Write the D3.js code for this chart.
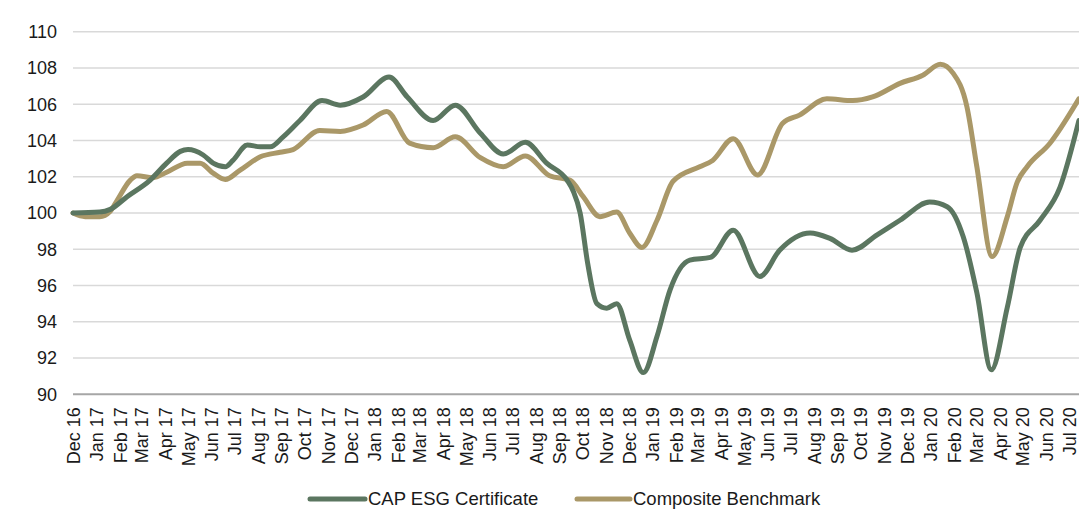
<!DOCTYPE html>
<html>
<head>
<meta charset="utf-8">
<script src="https://cdn.jsdelivr.net/npm/d3@7"></script>
<style>
  html, body { margin: 0; padding: 0; background: #fff; }
  svg { display: block; font-family: "Liberation Sans", Arial, sans-serif; }
</style>
</head>
<body>
<svg id="chart" width="1079" height="510"></svg>
<script>
// ---- data ----
const monthLabels = ["Dec 16","Jan 17","Feb 17","Mar 17","Apr 17","May 17","Jun 17","Jul 17","Aug 17","Sep 17","Oct 17","Nov 17","Dec 17",
  "Jan 18","Feb 18","Mar 18","Apr 18","May 18","Jun 18","Jul 18","Aug 18","Sep 18","Oct 18","Nov 18","Dec 18",
  "Jan 19","Feb 19","Mar 19","Apr 19","May 19","Jun 19","Jul 19","Aug 19","Sep 19","Oct 19","Nov 19","Dec 19",
  "Jan 20","Feb 20","Mar 20","Apr 20","May 20","Jun 20","Jul 20"];
const yTicks = [90, 92, 94, 96, 98, 100, 102, 104, 106, 108, 110];
const seriesNames = ["CAP ESG Certificate", "Composite Benchmark"];

const esgDates = ["2016-12-01","2017-01-05","2017-01-19","2017-02-10","2017-03-12","2017-04-03","2017-04-21","2017-05-01","2017-05-21","2017-06-03","2017-06-19","2017-06-29","2017-07-18","2017-08-04","2017-08-17","2017-09-03","2017-09-25","2017-10-24","2017-11-17","2017-12-17",
  "2018-01-20","2018-02-13","2018-03-19","2018-04-17","2018-05-20","2018-06-19","2018-07-18","2018-08-15","2018-09-11","2018-09-19","2018-09-28","2018-10-08","2018-10-20","2018-11-02","2018-11-15","2018-12-02","2018-12-20",
  "2019-01-07","2019-01-24","2019-02-19","2019-03-18","2019-04-17","2019-05-22","2019-06-17","2019-07-27","2019-08-22","2019-09-20","2019-10-23","2019-11-22","2019-12-31",
  "2020-01-23","2020-02-13","2020-03-02","2020-03-21","2020-04-11","2020-04-28","2020-05-24","2020-06-19","2020-07-14"];
const esgValues = [100, 100.05, 100.2, 100.9, 101.8, 102.75, 103.4, 103.5, 103.2, 102.75, 102.55, 102.9, 103.75, 103.65, 103.65, 104.2, 105.1, 106.2, 105.95, 106.4,
  107.5, 106.4, 105.1, 105.95, 104.4, 103.25, 103.9, 102.75, 101.8, 101.2, 100, 97.2, 95.0, 94.75, 95.0, 93, 91.2,
  93.2, 95.75, 97.4, 97.55, 99.05, 96.5, 97.95, 98.9, 98.6, 97.95, 98.8, 99.6, 100.6,
  100.35, 98.7, 95.6, 91.35, 94.8, 98.1, 99.6, 101.4, 105.1];

const benchDates = ["2016-12-01","2016-12-17","2017-01-05","2017-01-19","2017-01-28","2017-02-14","2017-02-23","2017-03-16","2017-04-03","2017-04-30","2017-05-17","2017-06-03","2017-06-19","2017-07-08","2017-08-04","2017-08-30","2017-09-16","2017-10-21","2017-11-17","2017-12-17",
  "2018-01-17","2018-02-16","2018-03-19","2018-04-17","2018-05-20","2018-06-19","2018-07-18","2018-08-19","2018-09-15","2018-10-02","2018-10-24","2018-11-15","2018-12-02","2018-12-18",
  "2019-01-07","2019-01-28","2019-03-04","2019-03-21","2019-04-17","2019-05-19","2019-06-21","2019-07-13","2019-08-18","2019-09-21","2019-10-17","2019-11-22","2019-12-22",
  "2020-01-14","2020-01-31","2020-02-18","2020-03-02","2020-03-22","2020-04-11","2020-04-24","2020-05-07","2020-06-06","2020-07-14"];
const benchValues = [100, 99.8, 99.8, 100.1, 100.7, 101.8, 102.05, 101.95, 102.25, 102.75, 102.75, 102.2, 101.85, 102.35, 103.1, 103.35, 103.5, 104.55, 104.5, 104.85,
  105.6, 103.85, 103.6, 104.2, 103.05, 102.55, 103.15, 102.05, 101.8, 100.9, 99.8, 100.05, 98.9, 98.1,
  99.6, 101.75, 102.55, 102.9, 104.1, 102.1, 104.95, 105.4, 106.3, 106.2, 106.4, 107.15, 107.6,
  108.2, 107.7, 105.85, 102.55, 97.6, 99.8, 101.7, 102.55, 103.85, 106.3];

const colors = ["#5b7660", "#aa9868"];

// ---- drawing ----
const svg = d3.select("#chart");
const W = 1079;
const parseDay = d3.timeParse("%Y-%m-%d");
const parseMonth = d3.timeParse("%b %y");
const tickDates = monthLabels.map(parseMonth);

const x = d3.scaleTime()
  .domain([tickDates[0], tickDates[tickDates.length - 1]])
  .range([73, 1069]);
const y = d3.scaleLinear().domain([90, 110]).range([394.3, 31.7]);

// gridlines
svg.append("g").selectAll("line")
  .data(yTicks.filter(v => v !== 90))
  .join("line")
  .attr("x1", 73).attr("x2", W)
  .attr("y1", d => y(d)).attr("y2", d => y(d))
  .attr("stroke", "#d9d9d9").attr("stroke-width", 1.5);

// y labels
svg.append("g").selectAll("text")
  .data(yTicks)
  .join("text")
  .attr("x", 57).attr("y", d => y(d))
  .attr("dy", "0.35em")
  .attr("text-anchor", "end")
  .attr("font-size", 18)
  .attr("fill", "#1a1a1a")
  .text(d => d);

// x axis
const xAxis = d3.axisBottom(x)
  .tickValues(tickDates)
  .tickFormat((d, i) => monthLabels[i])
  .tickSize(0);
const gx = svg.append("g").attr("transform", `translate(0,${y(90)})`).call(xAxis);
gx.select(".domain").remove();
gx.append("line").attr("x1", 73).attr("x2", W).attr("y1", 0).attr("y2", 0)
  .attr("stroke", "#a6a6a6").attr("stroke-width", 2);
gx.selectAll(".tick text")
  .attr("transform", "rotate(-90)")
  .attr("text-anchor", "end")
  .attr("x", -13).attr("y", 0)
  .attr("dy", "0.35em")
  .attr("font-size", 18)
  .attr("font-family", "Liberation Sans, Arial, sans-serif")
  .attr("fill", "#1a1a1a");

// lines
const lineGen = d3.line()
  .x(d => x(d[0])).y(d => y(d[1]))
  .curve(d3.curveMonotoneX);
const esgData = esgDates.map((d, i) => [parseDay(d), esgValues[i]]);
const benchData = benchDates.map((d, i) => [parseDay(d), benchValues[i]]);

svg.append("path").datum(benchData)
  .attr("d", lineGen).attr("fill", "none")
  .attr("stroke", colors[1]).attr("stroke-width", 5)
  .attr("stroke-linejoin", "round").attr("stroke-linecap", "round");
svg.append("path").datum(esgData)
  .attr("d", lineGen).attr("fill", "none")
  .attr("stroke", colors[0]).attr("stroke-width", 5)
  .attr("stroke-linejoin", "round").attr("stroke-linecap", "round");

// legend
const legendY = 499;
const legendItems = [
  { name: seriesNames[0], color: colors[0], x1: 310, x2: 365, tx: 368 },
  { name: seriesNames[1], color: colors[1], x1: 577, x2: 630, tx: 633 }
];
const lg = svg.append("g");
legendItems.forEach(it => {
  lg.append("line").attr("x1", it.x1).attr("x2", it.x2).attr("y1", legendY).attr("y2", legendY)
    .attr("stroke", it.color).attr("stroke-width", 5).attr("stroke-linecap", "round");
  lg.append("text").attr("x", it.tx).attr("y", legendY).attr("dy", "0.35em")
    .attr("font-size", 18.5).attr("fill", "#1a1a1a").text(it.name);
});
</script>
</body>
</html>
